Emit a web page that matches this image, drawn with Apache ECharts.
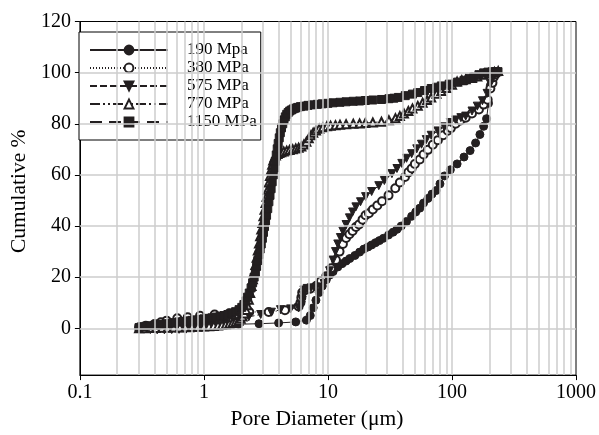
<!DOCTYPE html>
<html>
<head>
<meta charset="utf-8">
<script src="https://cdn.jsdelivr.net/npm/echarts@6/dist/echarts.min.js"></script>
<style>html,body{margin:0;padding:0;background:#fff}#c{width:599px;height:435px}</style>
</head>
<body>
<div id="c"></div>
<script>
const seriesNames = ['190 Mpa', '380 MPa', '575 MPa', '770 MPa', '1150 MPa'];
const xTickLabels = ['0.1', '1', '10', '100', '1000'];
const yTickValues = [0, 20, 40, 60, 80, 100, 120];
const hGridValues = [0, 20, 40, 60, 80, 100];
const vGridValues = [0.2,0.3,0.4,0.5,0.6,0.7,0.8,0.9,1,2,3,4,5,6,7,8,9,10,20,30,40,50,60,70,80,90,100,200,300,400,500,600,700,800,900];

const d190 = [[0.30,0],[0.33,0.1],[0.37,0.2],[0.42,0.3],[0.48,0.4],[0.55,0.5],[0.63,0.6],[0.73,0.7],[0.85,0.8],[1.0,0.9],[1.2,1.0],[1.45,1.2],[1.9,1.6],[2.78,1.8],[4.0,2.1],[5.5,2.5],[6.7,3.2],[7.2,5],[7.6,8],[8.0,11],[8.5,14],[9.0,16.5],[9.7,19],[10.3,20.8],[11,22.2],[12,24],[13,25.3],[14,26.3],[15,27.3],[16.5,28.5],[18,29.8],[19.5,31],[21,31.8],[22.5,32.6],[24.2,33.5],[26,34.3],[28,35.2],[30.8,36.5],[33.5,37.6],[36,38.7],[39,40],[43,41.8],[47.3,43.8],[51,45.5],[55,47],[59,49],[64,50.8],[69,52.5],[74.6,53.9],[80,56.5],[87,59.6],[97,62],[110,64.3],[125,67],[140,69.5],[155,72.5],[168,75.8],[180,79],[190,82],[197,88],[204,95],[212,99],[218,100]];

const d380 = [[0.30,0.4],[0.34,1.0],[0.40,1.7],[0.45,2.4],[0.50,3.0],[0.61,3.9],[0.74,4.3],[0.93,4.9],[1.22,5.4],[1.6,5.9],[2.0,6.2],[2.32,6.4],[3.33,6.4],[4.5,7.1],[5.8,8.5],[6.0,10],[6.1,12],[6.2,14],[6.6,15],[7.2,15.5],[8.07,16.6],[8.8,18.5],[9.7,20.4],[10.6,23.5],[11.6,26.7],[12.4,30],[13.2,33],[14,35.3],[14.9,36.8],[15.8,38.1],[16.8,39.6],[17.8,40.6],[19,42.5],[20.1,44.2],[21.4,45],[23,46.5],[25,48],[27.3,49.7],[30.8,52],[34.9,54.8],[38,57],[41.8,59.2],[44.5,61],[47.3,62.5],[50.2,64.3],[55,66],[59,68],[64,69.8],[70,71.8],[77,73.6],[85,75.5],[92.5,77.3],[98,78.3],[107,80],[117,81.3],[129,82.4],[145,84],[165,85.6],[180,87.5],[194,89.4],[204,93.8],[212,96],[217,98.2],[224,99.3],[231,100]];

const d575 = [[0.30,0],[0.33,-0.3],[0.37,-0.5],[0.42,-0.6],[0.48,-0.6],[0.55,-0.5],[0.63,-0.4],[0.72,-0.3],[0.83,0],[0.95,0.3],[1.1,0.7],[1.3,1.2],[1.5,1.8],[1.75,2.6],[2.0,3.5],[2.3,4.5],[2.87,5.4],[3.5,6.3],[4.14,7.3],[5.0,7.6],[5.8,8.0],[6.1,9],[6.2,11],[6.3,13],[6.4,15],[6.8,15.6],[7.3,15.8],[8.0,16],[8.7,16.2],[9.3,17.5],[9.8,20],[10.3,22.5],[11,26.7],[11.5,30],[12,33],[12.6,35.5],[13.2,38],[14,40.6],[14.9,43.2],[15.8,45.5],[16.8,47.5],[18.3,49.5],[20.1,51.5],[22.5,53.5],[25.7,55.8],[28.5,57.8],[32.8,60.5],[36,62.5],[39.4,64.5],[43,66.5],[47.3,68.3],[52,70.2],[56.8,72],[62,73.8],[68,75.5],[77,77.2],[87,78.8],[97,80.5],[107,81.5],[118,82.4],[129,83],[145,85],[160,86.9],[176,89],[192,91.9],[204,95.7],[214,98],[222,99.5],[230,100]];

const d770 = [[0.30,0],[0.33,0],[0.37,0.1],[0.41,0.1],[0.46,0.2],[0.51,0.2],[0.57,0.3],[0.64,0.3],[0.71,0.4],[0.80,0.5],[0.89,0.6],[1.0,0.7],[1.1,0.8],[1.2,0.95],[1.3,1.1],[1.4,1.3],[1.5,1.5],[1.6,1.8],[1.7,2.1],[1.8,2.5],[1.9,3.0],[1.98,3.7],[2.05,4.6],[2.12,5.8],[2.18,7.2],[2.24,9],[2.3,11.2],[2.36,13.8],[2.42,16.5],[2.48,19.2],[2.54,22],[2.6,24.8],[2.66,27.6],[2.72,30.4],[2.78,33.2],[2.84,36],[2.9,38.6],[2.96,41.2],[3.02,43.8],[3.08,46.4],[3.14,49],[3.2,51.5],[3.27,54.2],[3.34,57],[3.41,59.6],[3.48,62],[3.55,64],[3.62,65.6],[3.7,66.8],[3.8,67.6],[3.92,68.2],[4.05,68.6],[4.2,68.9],[4.4,69.2],[4.65,69.5],[4.9,69.7],[5.2,70],[5.5,70.3],[5.8,70.6],[6.1,71.1],[6.4,71.9],[6.7,73],[7.0,74.3],[7.3,75.5],[7.6,76.5],[8.0,77.4],[8.5,78.1],[9.1,78.6],[9.8,79],[10.5,79.2],[11.5,79.4],[12.5,79.6],[14,79.8],[16,80],[18,80.1],[20,80.3],[23,80.5],[27,80.8],[31,81.4],[35,82.2],[38,83],[41,84],[44.5,85],[48,86],[53,87],[58,88.2],[63,89.3],[68,90.3],[75,91.7],[82,92.8],[90,94],[100,95.3],[110,96.5],[120,97],[129,97.4],[145,97.9],[160,98.5],[180,99.2],[200,99.8],[220,100.3],[236,100.6]];

const d1150 = [[0.30,0.3],[0.32,0.6],[0.34,0.8],[0.37,1.0],[0.40,1.2],[0.43,1.4],[0.46,1.6],[0.50,1.8],[0.54,2.0],[0.58,2.2],[0.63,2.5],[0.68,2.7],[0.74,2.9],[0.80,3.1],[0.87,3.3],[0.94,3.5],[1.0,3.7],[1.08,3.9],[1.16,4.1],[1.26,4.4],[1.35,4.7],[1.45,5.0],[1.56,5.4],[1.68,5.9],[1.8,6.5],[1.92,7.3],[2.02,8.2],[2.1,9.3],[2.18,10.7],[2.25,12.2],[2.32,13.8],[2.4,15.8],[2.47,17.8],[2.54,20],[2.6,22],[2.66,24.2],[2.72,26.5],[2.78,28.8],[2.84,31],[2.9,33],[2.96,35.2],[3.02,37.5],[3.08,39.8],[3.14,42],[3.2,44.2],[3.27,46.8],[3.34,49.5],[3.41,52],[3.48,54.6],[3.55,57.3],[3.62,60],[3.69,62.7],[3.76,65.3],[3.83,67.8],[3.9,70.2],[3.97,72.3],[4.05,74.5],[4.13,76.5],[4.22,78.4],[4.32,80],[4.42,81.5],[4.53,82.7],[4.65,83.7],[4.78,84.4],[4.92,85],[5.08,85.4],[5.25,85.8],[5.45,86.1],[5.7,86.4],[6.0,86.7],[6.4,86.9],[6.9,87.2],[7.5,87.4],[8.2,87.6],[9,87.8],[10,88],[11,88.2],[12.5,88.4],[14,88.6],[16,88.8],[18,88.9],[20,89.1],[23,89.3],[27,89.5],[31,89.8],[34,90],[37,90.3],[42,91],[48,91.6],[53,92.2],[60,93],[68,93.8],[75,94.3],[82,94.8],[95,95.5],[111,96.3],[125,97],[140,97.8],[150,98.3],[165,99.2],[180,99.9],[195,100.2],[210,100.3],[225,100.4],[235,100.4]];

const INK = '#231f20';
const GRIDC = '#cccccc';
const FONT = '"Liberation Serif", "Times New Roman", serif';

function lineSeries(name, data, symbol, lineType, opts) {
  return Object.assign({
    name: name,
    type: 'line',
    data: data,
    symbol: symbol,
    symbolSize: 8,
    showAllSymbol: true,
    color: INK,
    itemStyle: {color: INK, borderColor: INK, borderWidth: 1},
    lineStyle: {color: INK, width: 1, type: lineType},
    animation: false,
    z: 3
  }, opts || {});
}

const gridLines = [].concat(
  vGridValues.map(function (v) { return {xAxis: v}; }),
  hGridValues.map(function (v) { return {yAxis: v}; })
);

const chart = echarts.init(document.getElementById('c'), null, {renderer: 'canvas'});
chart.setOption({
  backgroundColor: '#fff',
  animation: false,
  textStyle: {fontFamily: FONT, color: '#000'},
  grid: {left: 73, right: 22, top: 21.5, bottom: 49, show: true, borderColor: '#000', borderWidth: 1},
  legend: {
    data: seriesNames,
    orient: 'vertical',
    left: 79,
    top: 32,
    padding: [9, 4, 9, 10],
    itemWidth: 78,
    itemHeight: 11,
    itemGap: 0,
    backgroundColor: '#fff',
    borderColor: '#000',
    borderWidth: 1,
    textStyle: {fontFamily: FONT, fontSize: 17, color: '#000', lineHeight: 18, padding: [0, 0, 0, 14]}
  },
  xAxis: {
    type: 'log',
    logBase: 10,
    min: 0.1,
    max: 1000,
    name: 'Pore Diameter (\u03bcm)',
    nameLocation: 'middle',
    nameGap: 27,
    nameTextStyle: {fontFamily: FONT, fontSize: 21.5, color: '#000', padding: [0, 22, 0, 0]},
    axisLine: {onZero: false, lineStyle: {color: '#000', width: 1}},
    axisTick: {show: true, length: 5, lineStyle: {color: '#000'}},
    axisLabel: {fontFamily: FONT, fontSize: 20, color: '#000', margin: 8,
      formatter: function (v) {
        const idx = Math.round(Math.log10(v)) + 1;
        return xTickLabels[idx] !== undefined ? xTickLabels[idx] : '';
      }},
    splitLine: {show: false}
  },
  yAxis: {
    type: 'value',
    min: -18.3,
    max: 120,
    name: 'Cumulative %',
    nameLocation: 'middle',
    nameGap: 40,
    nameTextStyle: {fontFamily: FONT, fontSize: 21.5, color: '#000', padding: [0, 0, 0, 14]},
    axisLine: {onZero: false, lineStyle: {color: '#000', width: 1}},
    axisTick: {show: true, length: 5, lineStyle: {color: '#000'}, customValues: yTickValues},
    axisLabel: {fontFamily: FONT, fontSize: 20, color: '#000', margin: 9, customValues: yTickValues},
    splitLine: {show: false}
  },
  series: [
    {
      type: 'line', data: [], z: 1, silent: true, animation: false,
      markLine: {
        silent: true, animation: false, symbol: ['none', 'none'],
        label: {show: false},
        lineStyle: {color: GRIDC, width: 1.5, type: 'solid'},
        data: gridLines
      }
    },
    lineSeries(seriesNames[0], d190, 'circle', 'solid'),
    lineSeries(seriesNames[1], d380, 'emptyCircle', [1, 2]),
    lineSeries(seriesNames[2], d575, 'triangle', [7, 3], {symbolRotate: 180}),
    lineSeries(seriesNames[3], d770, 'emptyTriangle', [10, 3, 2, 3, 2, 3]),
    lineSeries(seriesNames[4], d1150, 'rect', [12, 7])
  ]
});
</script>
</body>
</html>
